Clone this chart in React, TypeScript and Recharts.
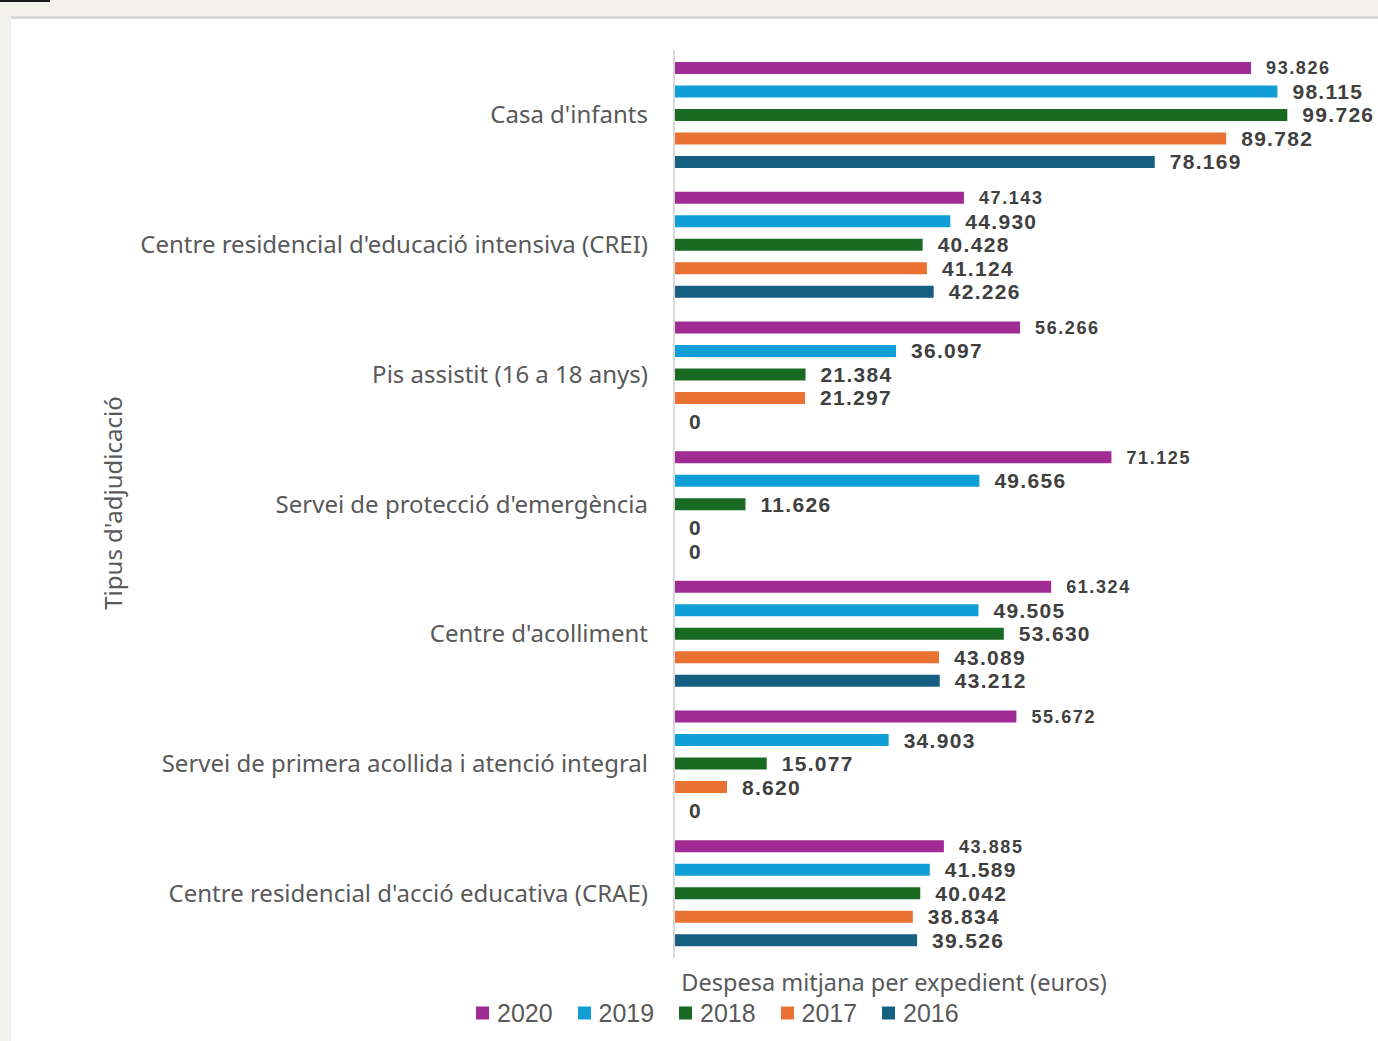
import { Bar, BarChart, LabelList, XAxis, YAxis } from 'recharts';

const categories = [
  "Casa d'infants",
  "Centre residencial d'educació intensiva (CREI)",
  'Pis assistit (16 a 18 anys)',
  "Servei de protecció d'emergència",
  "Centre d'acolliment",
  'Servei de primera acollida i atenció integral',
  "Centre residencial d'acció educativa (CRAE)",
];

const years = ['2020', '2019', '2018', '2017', '2016'];
const colors = ['#A02B93', '#0F9ED5', '#196B24', '#E97132', '#156082'];

const v2020 = [93826, 47143, 56266, 71125, 61324, 55672, 43885];
const v2019 = [98115, 44930, 36097, 49656, 49505, 34903, 41589];
const v2018 = [99726, 40428, 21384, 11626, 53630, 15077, 40042];
const v2017 = [89782, 41124, 21297, 0, 43089, 8620, 38834];
const v2016 = [78169, 42226, 0, 0, 43212, 0, 39526];

const seriesValues = [v2020, v2019, v2018, v2017, v2016];

const data = categories.map((nom, i) => {
  const row: Record<string, string | number> = { nom };
  years.forEach((y, s) => {
    row[y] = seriesValues[s][i];
  });
  return row;
});

// thousands with a dot, as in the original
const fmt = (v: unknown) => String(v).replace(/\B(?=(\d{3})+(?!\d))/g, '.');

const textFont = '"Liberation Sans", Arial, sans-serif';
const catFont = '"Noto Sans", sans-serif';

export default function App() {
  return (
    <div
      style={{
        position: 'absolute',
        left: 0,
        top: 0,
        width: 1378,
        height: 1041,
        background: '#F2F1EC',
        overflow: 'hidden',
      }}
    >
      <div style={{ position: 'absolute', left: 0, top: 0, width: 50, height: 2, background: '#1a1a1a' }} />
      <div style={{ position: 'absolute', left: 11, top: 16, right: 0, height: 3, background: '#D9D9D9' }} />
      <div style={{ position: 'absolute', left: 11, top: 19, right: 0, bottom: 0, background: '#ffffff' }}>
        <BarChart
          width={1367}
          height={1022}
          data={data}
          layout="vertical"
          margin={{ top: 31, right: 89, bottom: 83, left: 0 }}
          barSize={12}
          barGap={11.5}
        >
          <XAxis type="number" domain={[0, 100000]} hide />
          <YAxis
            type="category"
            dataKey="nom"
            width={663}
            tickLine={false}
            tickSize={0}
            tickMargin={26}
            axisLine={{ stroke: '#D9D9D9', strokeWidth: 2 }}
            tick={{ fill: '#595959', fontSize: 24, fontFamily: catFont }}
            interval={0}
          />
          {years.map((y, s) => (
            <Bar key={y} dataKey={y} fill={colors[s]} minPointSize={0.01} isAnimationActive={false}>
              <LabelList
                dataKey={y}
                position="right"
                offset={15}
                formatter={fmt}
                fill="#404040"
                fontWeight="bold"
                fontFamily={textFont}
                fontSize={s === 0 ? 18 : 21}
                letterSpacing={s === 0 ? 1.6 : 1.3}
              />
            </Bar>
          ))}
        </BarChart>
      </div>

      <div
        style={{
          position: 'absolute',
          left: 112,
          top: 503,
          transform: 'translate(-50%, -50%) rotate(-90deg)',
          whiteSpace: 'nowrap',
          fontFamily: catFont,
          fontSize: 24,
          color: '#595959',
        }}
      >
        Tipus d'adjudicació
      </div>

      <div
        style={{
          position: 'absolute',
          left: 894,
          top: 982,
          transform: 'translate(-50%, -50%)',
          whiteSpace: 'nowrap',
          fontFamily: catFont,
          fontSize: 23.5,
          color: '#595959',
        }}
      >
        Despesa mitjana per expedient (euros)
      </div>

      <div
        style={{
          position: 'absolute',
          left: 476,
          top: 1013,
          transform: 'translateY(-50%)',
          display: 'flex',
          alignItems: 'center',
          fontFamily: textFont,
          fontSize: 25,
          color: '#595959',
        }}
      >
        {years.map((y, s) => (
          <div key={y} style={{ display: 'flex', alignItems: 'center', width: s < years.length - 1 ? 101.5 : undefined }}>
            <span style={{ display: 'inline-block', width: 13, height: 13, background: colors[s], marginRight: 8 }} />
            <span>{y}</span>
          </div>
        ))}
      </div>
    </div>
  );
}
